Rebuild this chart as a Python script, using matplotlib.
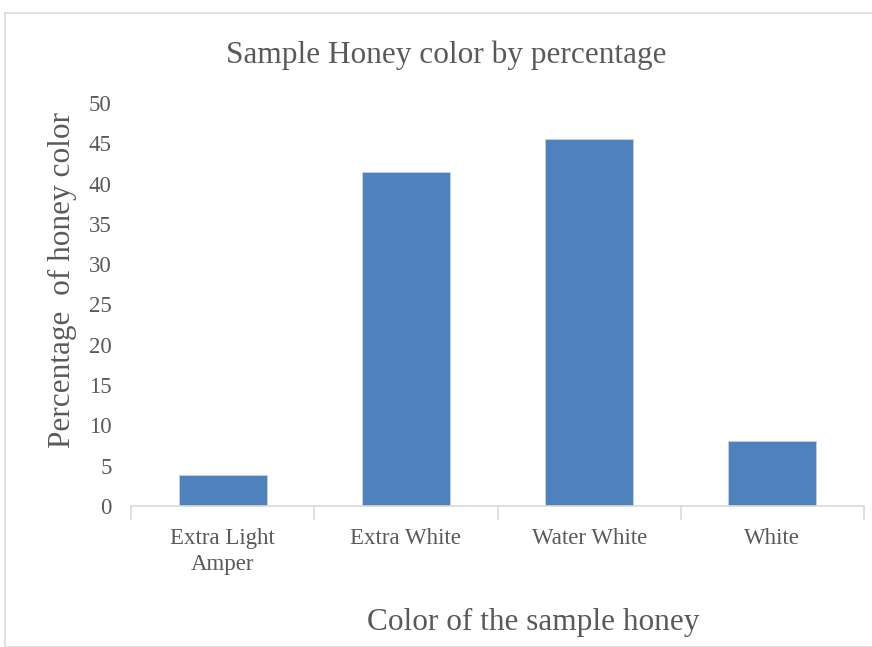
import numpy as np
import matplotlib
matplotlib.use("Agg")
import matplotlib.pyplot as plt
from matplotlib.patches import Rectangle

categories = ["Extra Light\nAmper", "Extra White", "Water White", "White"]
percent = [3.85, 41.4, 45.5, 8.1]
yticks = [0, 5, 10, 15, 20, 25, 30, 35, 40, 45, 50]

plt.rcParams['font.family'] = ['Liberation Serif', 'DejaVu Serif']
txt = '#595959'
grid = '#D9D9D9'

fig = plt.figure(figsize=(8.72, 6.47), dpi=100)
# chart border (cut off at right and bottom like the screenshot)
fig.patches.append(Rectangle((5/872, 0), 1.0, 1 - 13/647, transform=fig.transFigure,
                             fill=False, edgecolor=grid, linewidth=1.2))

ax = fig.add_axes([131/872, 1 - 506/647, (864 - 131)/872, (506 - 103)/647])
x = np.arange(len(categories))
ax.bar(x, percent, width=0.48, color='#4F81BD', edgecolor='#C5D3E8', linewidth=0.6)

ax.set_xlim(-0.5, len(categories) - 0.5)
ax.set_ylim(0, 50)
ax.set_yticks(yticks)
ax.set_yticklabels([str(v) for v in yticks], fontsize=16.5, color=txt)
ax.tick_params(axis='y', length=0, pad=14)

ax.set_xticks(x)
ax.set_xticklabels(categories, fontsize=16.5, color=txt, linespacing=1.3)
ax.tick_params(axis='x', which='major', length=0, pad=16)
ax.set_xticks(np.arange(-0.5, len(categories)), minor=True)
ax.tick_params(axis='x', which='minor', length=10, color=grid, width=1.2, direction='out')

for s in ['top', 'right', 'left']:
    ax.spines[s].set_visible(False)
ax.spines['bottom'].set_color(grid)
ax.spines['bottom'].set_linewidth(1.2)

fig.text(446/872, 1 - 55/647, "Sample Honey color by percentage", ha='center', va='center',
         fontsize=22.5, color=txt)
fig.text(533/872, 1 - 622/647, "Color of the sample honey", ha='center', va='center',
         fontsize=22.5, color=txt)
fig.text(62/872, 1 - 280/647, "Percentage  of honey color", ha='center', va='center',
         rotation=90, fontsize=22.5, color=txt)

fig.savefig("out.png", dpi=100)
